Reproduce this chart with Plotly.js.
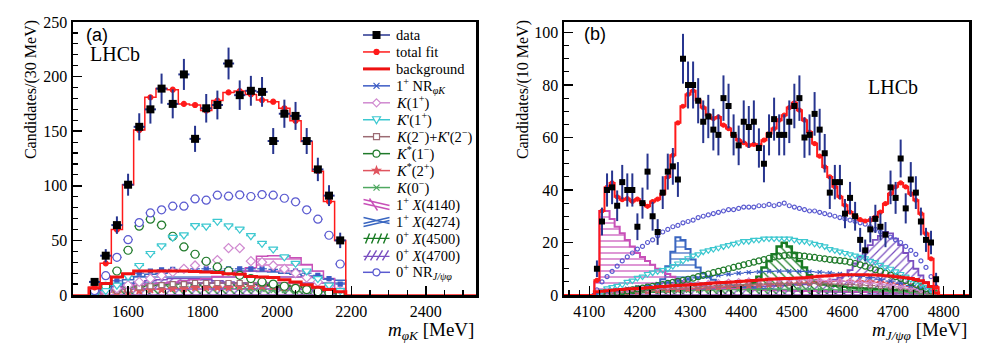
<!DOCTYPE html>
<html>
<head>
<meta charset="utf-8">
<script src="https://cdn.plot.ly/plotly-3.0.1.min.js"></script>
<style>
body { margin: 0; background: white; }
#chart { width: 998px; height: 350px; }
</style>
</head>
<body>
<div id="chart"></div>
<script>
// panel (a): m(phi K), 30 MeV bins
var binA = 30
var xA = [1510,1540,1570,1600,1630,1660,1690,1720,1750,1780,1810,1840,1870,1900,1930,1960,1990,2020,2050,2080,2110,2140,2170]
var dataA = [12,36,64,101,154,170,189,175,202,143,171,174,212,183,187,186,141,166,164,141,115,91,50]
var fitA = [7,29,60,101,151,181,189,188,175,174,169,178,185.5,186.7,183.7,178.5,177,171,159.5,140.6,113.4,85.6,50]
var bkgA = [6.5,10.5,16.5,19.5,22,22,22,22,22,21.5,21,20.5,19.5,19,17,16.5,16,14,12,9.5,7,5,3]
var nrPhiKA = [3,8,13,17,20,22,23,23.5,24,24,24,24,24,24,24,24,23.5,23,22,20,18,15,10]
var k1pA = [1,3,6,9,12,15,18,21,24,27,30,32,43,43,31,30,27,24,20,16,12,8,3]
var kp1pA = [1,4,9,17,27,38,45,52.8,55,63.5,63,67.5,63.3,60.4,54.3,47.3,42,35,29,22,15,9,4]
var k2mA = [1,2,4,5,7,8,9,10,10,11,11,11,11,11,11,10,10,9,8,7,5,4,2]
var ks1mA = [2,8,22,41,63,69.4,64,53.8,44,37.3,30.9,25.7,22,18,15,12,10,8,6,5,3,2,1]
var ks2pA = [0,1,2,3,4,5,5,6,6,7,7,7,7,8,8,8,8,7,7,6,5,3,2]
var k0mA = [1,3,5,7,8,9,9,9,8,8,7,7,6,6,5,5,4,4,3,3,2,2,1]
var x4140A = [1,3,5,7,9,10,11,12,13,14,15,17,19,21,25,35.5,36,36,34,28,22,15,6]
var x4274A = [2,6,10,14,17,19,20,21,21.5,22,22,22,22,22,22,21.5,21,20,19,17.5,16,14.5,13.5]
var x4500A = [1,3,5,7,8,9,10,10,11,11,11,11,11,11,10,10,9,9,8,7,6,4,2]
var x4700A = [2,5,8,10,12,13,14,15,15,15,14,13,12,11,10,9,8,7,6,5,4,3,1]
var nrJA = [4,17.7,34.5,50.7,66.3,75.2,78,81.3,81.3,88,86.8,91.4,90.5,91.7,90.2,92,91.4,88.6,85.3,78,69.4,54.7,28.4]

// panel (b): m(J/psi phi), 10 MeV bins
var binB = 10
var xB = [4115,4125,4135,4145,4155,4165,4175,4185,4195,4205,4215,4225,4235,4245,4255,4265,4275,4285,4295,4305,4315,4325,4335,4345,4355,4365,4375,4385,4395,4405,4415,4425,4435,4445,4455,4465,4475,4485,4495,4505,4515,4525,4535,4545,4555,4565,4575,4585,4595,4605,4615,4625,4635,4645,4655,4665,4675,4685,4695,4705,4715,4725,4735,4745,4755,4765,4775,4785]
var dataB = [10,28,40,41,34,43,40,40,26,35,47,30,24,39,47,49,44,90,80,80,74,66,68,63,61,75,72,61,57,66,64,66,56,50,61,67,61,61,66,72,75,60,61,69,63,54,39,43,43,31,37,30,21,17,25,29,26,23,41,37,52,33,44,39,28,21,20,6]
var fitB = [5.6,32,41,42.7,37.4,36.3,36.7,35.7,36.5,35,33.8,35.6,36.5,38.6,45,53.2,65.6,71.9,76.4,77.8,74.2,71.4,68.5,67.2,67.8,64.7,63.4,60.9,59,58,57,57.4,57,59,61.5,63.4,66.6,68.5,71.4,73.2,70.4,66.6,62.1,57.7,52.9,48.8,45,41.2,37.4,34.2,31.6,30,28.7,28.2,28.5,29.7,31.6,34.8,38.6,41.2,42.7,41.2,38.6,36.1,31,23.4,13.8,3]
var bkgB = [1.2,1.4,1.6,1.8,2,2.1,2.3,2.4,2.5,2.6,2.8,2.9,3.1,3.2,3.3,3.5,3.6,3.7,3.8,4,4.1,4.3,4.4,4.6,4.7,4.8,4.9,5,5.1,5.2,5.4,5.5,5.7,5.8,6,6.1,6.2,6.3,6.3,6.4,6.5,6.6,6.8,7,7.1,7.2,7.3,7.5,7.6,7.7,7.7,7.7,7.7,7.7,7.6,7.6,7.5,7.3,7.2,7,6.8,6.6,6.3,5.9,5.4,4.7,3.2,0.8]
var nrJB = [2,5,7,9,11,13,14.5,16,17.5,18.5,20,21,22.5,24,25,26,26.5,27.5,28,28.5,29.5,30,30.5,31,31.5,32,32.5,32.5,33,33.5,33.5,33.5,34,34,34.5,34,34.5,35,34,33.5,33,32.5,32,32,31.5,31,30.5,30,29.5,29,28.5,28,27.5,27,26,25,24,23,22,21,20,18.5,17,15.5,13,10.5,7,3]
var kp1pB = [0.5,1.5,2.5,3,3.5,4,5,5.5,6.5,7,8,8.5,9,9.5,10,11,12,13,14,15,15.5,16.5,17,17.5,18,18.5,19,19.5,20,20.5,20.5,21,21,21.5,21.5,21.5,21.5,21.5,21.5,21,20.5,20.5,20,19.5,19,18.5,17.5,17,16.5,16,15.5,15,14.5,14,13,12.5,11.5,10.5,10,9,8,7,6,5,4,3,2,0.5]
var ks1mB = [0,0.3,0.5,0.8,1,1.3,1.6,2,2.3,2.6,3,3.3,3.6,4,4.4,4.8,5.2,5.6,6,6.4,7,7.5,8,8.5,9,9.5,10,10.5,11,11.5,12,12.5,13,13.5,14,14.5,14.8,15,15.2,15.2,15,14.8,14.5,14.3,14,13.8,13.5,13.3,13.1,12.9,12.5,12,11.5,11,10.3,9.6,9,8.3,7.6,7,6.3,5.5,4.8,4,3.2,2.4,1.5,0.5]
var x4140B = [5,32,32,29,26,23.5,21,18.5,16,14.5,13,11.5,10,9,8,7,6,5.2,4.6,4.2,3.8,3.5,3.2,3,2.8,2.6,2.5,2.4,2.3,2.2,2.1,2,2,1.9,1.9,1.8,1.8,1.7,1.7,1.6,1.6,1.5,1.5,1.5,1.4,1.4,1.4,1.3,1.3,1.3,1.2,1.2,1.2,1.1,1.1,1.1,1,1,1,0.9,0.9,0.8,0.8,0.7,0.6,0.5,0.4,0.2]
var x4274B = [0.3,0.5,0.6,0.7,0.8,0.9,1,1.2,1.4,1.6,1.9,2.3,3.2,6,11,16.5,22,21,17.5,13.5,10.5,8.2,6.8,5.8,5,4.4,4,3.6,3.3,3,2.8,2.6,2.4,2.3,2.2,2.1,2,1.9,1.8,1.7,1.6,1.6,1.5,1.5,1.4,1.4,1.3,1.3,1.2,1.2,1.2,1.1,1.1,1.1,1,1,1,0.9,0.9,0.8,0.8,0.7,0.7,0.6,0.5,0.4,0.3,0.1]
var x4500B = [0.2,0.3,0.4,0.5,0.6,0.7,0.8,0.9,1,1.1,1.2,1.3,1.4,1.5,1.6,1.7,1.8,1.9,2,2.1,2.2,2.3,2.4,2.5,2.6,2.8,3,3.2,3.4,3.6,3.9,4.5,7,10.5,13,15.5,18.5,19.9,18.5,16,13,10.5,7.5,5.5,4.5,4,3.7,3.5,3.3,3.1,2.9,2.8,2.6,2.5,2.4,2.3,2.2,2.1,2,1.9,1.8,1.6,1.4,1.2,1,0.8,0.5,0.2]
var x4700B = [0.2,0.3,0.4,0.5,0.6,0.6,0.7,0.8,0.9,1,1,1.1,1.2,1.3,1.4,1.5,1.6,1.7,1.8,1.9,2,2.1,2.2,2.3,2.4,2.5,2.6,2.7,2.8,2.9,3,3.1,3.2,3.3,3.4,3.5,3.6,3.7,3.8,3.9,4,4.1,4.3,4.5,4.7,5,5.3,5.8,6.5,7.5,9.5,12,14.5,17,19,21,22.5,24,23.5,21.5,19,16,13,10,7.5,5,3,1]
// smaller components of panel (b), read every 20 MeV
var xMinorB = [4115,4135,4155,4175,4195,4215,4235,4255,4275,4295,4315,4335,4355,4375,4395,4415,4435,4455,4475,4495,4515,4535,4555,4575,4595,4615,4635,4655,4675,4695,4715,4735,4755,4775]
var nrPhiKB = [0.5,1.2,1.8,2.4,3,3.6,4.2,4.8,5.4,6,6.5,7,7.5,7.9,8.3,8.6,8.8,9,9.1,9.1,9,8.9,8.7,8.4,8,7.6,7.1,6.6,6,5.3,4.5,3.6,2.6,1.3]
var k1pB = [0.3,0.8,1.2,1.6,2,2.4,2.8,3.2,3.6,4,4.3,4.6,4.9,5.1,5.3,5.5,5.6,5.7,5.8,5.8,5.8,5.7,5.6,5.5,5.3,5.1,4.8,4.5,4.1,3.7,3.2,2.6,1.9,1]
var k2mB = [0.3,0.7,1,1.3,1.6,1.9,2.2,2.5,2.8,3,3.2,3.4,3.6,3.8,4,4.1,4.2,4.3,4.4,4.4,4.4,4.4,4.3,4.2,4.1,4,3.8,3.6,3.3,3,2.6,2.1,1.6,0.8]
var ks2pB = [0.2,0.5,0.8,1,1.3,1.5,1.8,2,2.2,2.4,2.6,2.8,3,3.2,3.4,3.6,3.8,4,4.2,4.4,4.6,4.8,5,5.1,5.2,5.2,5.1,5,4.8,4.5,4,3.3,2.5,1.2]
var k0mB = [0.2,0.4,0.6,0.8,1,1.1,1.3,1.4,1.5,1.6,1.7,1.8,1.9,2,2,2.1,2.1,2.2,2.2,2.2,2.2,2.2,2.1,2.1,2,1.9,1.8,1.7,1.6,1.4,1.2,1,0.7,0.3]

var rangeA = [1452, 2535]
var rangeB = [4050, 4850]

var cErr = '#27358f'
var cFit = '#ff1a1a'
var cBkg = '#ee1111'
var cNrPhiK = '#3b5bc4'
var cK1p = '#d08ad0'
var cKp1p = '#3cc8d0'
var cK2m = '#9c6b73'
var cKs1m = '#1f7a2a'
var cKs2p = '#e0555f'
var cK0m = '#4fa860'
var cX4140 = '#c850b8'
var cX4274 = '#3a66c0'
var cX4500 = '#177a22'
var cX4700 = '#7a4fc0'
var cNrJ = '#5a5ad0'

// bin contents -> outline of a histogram (optionally with a zero line out to the axis ends)
function steps(xc, yv, w, lo, hi) {
    var x = [], y = []
    if (lo !== undefined) { x.push(lo); y.push(0) }
    x.push(xc[0] - w / 2); y.push(0)
    for (var i = 0; i < xc.length; i++) {
        x.push(xc[i] - w / 2); y.push(yv[i])
    }
    var end = xc[xc.length - 1] + w / 2
    x.push(end); y.push(yv[yv.length - 1])
    x.push(end); y.push(0)
    if (hi !== undefined) { x.push(hi); y.push(0) }
    return {x: x, y: y}
}

function histLine(xc, yv, w, color, lw, xa, ya, range) {
    var s = range ? steps(xc, yv, w, range[0], range[1]) : steps(xc, yv, w)
    return {type: 'scatter', mode: 'lines', x: s.x, y: s.y, xaxis: xa, yaxis: ya,
        line: {shape: 'hv', color: color, width: lw}, showlegend: false, hoverinfo: 'skip'}
}

function hatched(xc, yv, w, color, shape, lw, xa, ya) {
    var t = histLine(xc, yv, w, color, lw, xa, ya)
    t.fill = 'tozeroy'
    t.fillcolor = 'rgba(0,0,0,0)'
    t.fillpattern = {shape: shape, fgcolor: color, bgcolor: 'rgba(0,0,0,0)', size: 6, solidity: 0.2}
    return t
}

function pts(x, y, color, symbol, size, half, xa, ya, fill) {
    var t = {type: 'scatter', mode: 'markers', x: x, y: y, xaxis: xa, yaxis: ya,
        marker: {symbol: symbol, size: size, color: fill || color, line: {color: color, width: 1.2}},
        showlegend: false, hoverinfo: 'skip'}
    if (half) t.error_x = {type: 'constant', value: half, width: 0, thickness: 1.2, color: color}
    return t
}

function dataTrace(x, y, w, size, xa, ya) {
    return {type: 'scatter', mode: 'markers', x: x, y: y, xaxis: xa, yaxis: ya,
        marker: {symbol: 'square', size: size, color: 'black'},
        error_y: {type: 'data', array: y.map(Math.sqrt), width: 0, thickness: 2, color: cErr},
        error_x: {type: 'constant', value: w / 2, width: 0, thickness: 2, color: cErr},
        showlegend: false, hoverinfo: 'skip'}
}

var traces = [
    // panel (a)
    hatched(xA, x4700A, binA, cX4700, '/', 1.5, 'x', 'y'),
    hatched(xA, x4500A, binA, cX4500, '\\', 1.5, 'x', 'y'),
    hatched(xA, x4274A, binA, cX4274, '-', 1.5, 'x', 'y'),
    hatched(xA, x4140A, binA, cX4140, '-', 1.5, 'x', 'y'),
    pts(xA, k0mA, cK0m, 'x-thin', 5, 13, 'x', 'y'),
    pts(xA, ks2pA, cKs2p, 'star', 6, 13, 'x', 'y'),
    pts(xA, k2mA, cK2m, 'square', 5, 13, 'x', 'y', 'white'),
    pts(xA, nrPhiKA, cNrPhiK, 'square', 4, 13, 'x', 'y'),
    pts(xA, k1pA, cK1p, 'diamond', 7, 13, 'x', 'y', 'white'),
    pts(xA, ks1mA, cKs1m, 'circle', 8, 13, 'x', 'y', 'white'),
    pts(xA, kp1pA, cKp1p, 'triangle-down', 8, 13, 'x', 'y', 'white'),
    pts(xA, nrJA, cNrJ, 'circle', 8, 13, 'x', 'y', 'white'),
    histLine(xA, bkgA, binA, cBkg, 3, 'x', 'y'),
    histLine(xA, fitA, binA, cFit, 1.5, 'x', 'y', rangeA),
    pts(xA, fitA, cFit, 'circle', 5, 0, 'x', 'y'),
    dataTrace(xA, dataA, binA, 8, 'x', 'y'),
    // panel (b)
    hatched(xB, x4700B, binB, cX4700, '/', 1.8, 'x2', 'y2'),
    hatched(xB, x4500B, binB, cX4500, '\\', 2.5, 'x2', 'y2'),
    hatched(xB, x4274B, binB, cX4274, '-', 2, 'x2', 'y2'),
    hatched(xB, x4140B, binB, cX4140, '-', 2, 'x2', 'y2'),
    pts(xMinorB, k0mB, cK0m, 'x-thin', 4, 10, 'x2', 'y2'),
    pts(xMinorB, ks2pB, cKs2p, 'star', 5, 10, 'x2', 'y2'),
    pts(xMinorB, k2mB, cK2m, 'square-open', 4, 10, 'x2', 'y2'),
    pts(xMinorB, k1pB, cK1p, 'diamond-open', 4, 10, 'x2', 'y2'),
    pts(xMinorB, nrPhiKB, cNrPhiK, 'x-thin', 4, 10, 'x2', 'y2'),
    pts(xB, ks1mB, cKs1m, 'circle-open', 6, 0, 'x2', 'y2'),
    pts(xB, kp1pB, cKp1p, 'triangle-down-open', 6, 0, 'x2', 'y2'),
    pts(xB, nrJB, cNrJ, 'circle-open', 4, 0, 'x2', 'y2'),
    histLine(xB, bkgB, binB, cBkg, 3, 'x2', 'y2'),
    histLine(xB, fitB, binB, cFit, 2, 'x2', 'y2', rangeB),
    pts(xB, fitB, cFit, 'circle', 4, 0, 'x2', 'y2'),
    dataTrace(xB, dataB, binB, 6, 'x2', 'y2')
]

// legend of panel (a), drawn by hand so the rows can sit as close as in the original
var legendRows = [
    {text: 'data', color: cErr, glyph: 'square'},
    {text: 'total fit', color: cFit, glyph: 'dot'},
    {text: 'background', color: cBkg, glyph: 'none', width: 3},
    {text: '1<sup>+</sup> NR<sub><i>φK</i></sub>', color: cNrPhiK, glyph: 'x'},
    {text: '<i>K</i>(1<sup>+</sup>)', color: cK1p, glyph: 'diamond'},
    {text: "<i>K</i>'(1<sup>+</sup>)", color: cKp1p, glyph: 'tridown'},
    {text: "<i>K</i>(2<sup>−</sup>)+<i>K</i>'(2<sup>−</sup>)", color: cK2m, glyph: 'sqopen'},
    {text: '<i>K</i><sup>*</sup>(1<sup>−</sup>)', color: cKs1m, glyph: 'circle'},
    {text: '<i>K</i><sup>*</sup>(2<sup>+</sup>)', color: cKs2p, glyph: 'star'},
    {text: '<i>K</i>(0<sup>−</sup>)', color: cK0m, glyph: 'x'},
    {text: '1<sup>+</sup> <i>X</i>(4140)', color: cX4140, glyph: 'M-13,5L13,-1M-13,1L13,-5M-7,6L1,-6'},
    {text: '1<sup>+</sup> <i>X</i>(4274)', color: cX4274, glyph: 'M-13,-2L13,4M-13,4L13,-2M-13,-5L13,1'},
    {text: '0<sup>+</sup> <i>X</i>(4500)', color: cX4500, glyph: 'M-13,0L13,0M-11,-5L-7,5M-5,-5L-1,5M1,-5L5,5M7,-5L11,5'},
    {text: '0<sup>+</sup> <i>X</i>(4700)', color: cX4700, glyph: 'M-13,-1L13,-1M-12,-5L-6,5M-6,-5L0,5M0,-5L6,5M6,-5L12,5'},
    {text: '0<sup>+</sup> NR<sub><i>J/ψφ</i></sub>', color: cNrJ, glyph: 'circle'}
]

var shapes = []
var annotations = []
var legX0 = 0.7196, legX1 = 0.7866, legXm = 0.7531, legXt = 0.7965

function glyphShape(kind, color, yc) {
    var s = {xref: 'x domain', yref: 'y domain', xsizemode: 'pixel', ysizemode: 'pixel',
        xanchor: legXm, yanchor: yc, line: {color: color, width: 1.2}}
    if (kind === 'square') { s.type = 'rect'; s.x0 = -4; s.x1 = 4; s.y0 = -4; s.y1 = 4; s.fillcolor = 'black'; s.line.width = 0 }
    else if (kind === 'dot') { s.type = 'circle'; s.x0 = -2.5; s.x1 = 2.5; s.y0 = -2.5; s.y1 = 2.5; s.fillcolor = color }
    else if (kind === 'circle') { s.type = 'circle'; s.x0 = -3.5; s.x1 = 3.5; s.y0 = -3.5; s.y1 = 3.5; s.fillcolor = 'white' }
    else if (kind === 'sqopen') { s.type = 'rect'; s.x0 = -3; s.x1 = 3; s.y0 = -3; s.y1 = 3; s.fillcolor = 'white' }
    else if (kind === 'diamond') { s.type = 'path'; s.path = 'M0,4L4,0L0,-4L-4,0Z'; s.fillcolor = 'white' }
    else if (kind === 'tridown') { s.type = 'path'; s.path = 'M-4,3L4,3L0,-4Z'; s.fillcolor = 'white' }
    else if (kind === 'star') { s.type = 'path'; s.path = 'M0,4L1,1.3L3.8,1.2L1.5,-0.5L2.4,-3.2L0,-1.6L-2.4,-3.2L-1.5,-0.5L-3.8,1.2L-1,1.3Z'; s.fillcolor = color }
    else if (kind === 'x') { s.type = 'path'; s.path = 'M-3,-3L3,3M-3,3L3,-3' }
    else { s.type = 'path'; s.path = kind; s.line.width = 1.4 }
    return s
}

legendRows.forEach(function (r, i) {
    var yc = (295 - (35 + 16.95 * i)) / 273
    if (r.glyph.charAt(0) !== 'M') {
        shapes.push({type: 'line', xref: 'x domain', yref: 'y domain', x0: legX0, x1: legX1, y0: yc, y1: yc,
            line: {color: r.color, width: r.width || 1.5}})
    }
    if (r.glyph !== 'none') shapes.push(glyphShape(r.glyph, r.color, yc))
    annotations.push({xref: 'x domain', yref: 'y domain', x: legXt, y: yc, xanchor: 'left', yanchor: 'middle',
        text: r.text, showarrow: false, font: {family: 'Liberation Serif', size: 14.5, color: 'black'}})
})

var serif = 'Liberation Serif'
annotations.push(
    {xref: 'x domain', yref: 'y domain', x: 0.027, y: 0.952, xanchor: 'left', yanchor: 'middle', text: '(a)', showarrow: false, font: {family: 'Liberation Sans', size: 18, color: 'black'}},
    {xref: 'x domain', yref: 'y domain', x: 0.038, y: 0.883, xanchor: 'left', yanchor: 'middle', text: 'LHCb', showarrow: false, font: {family: serif, size: 20, color: 'black'}},
    {xref: 'x2 domain', yref: 'y2 domain', x: 0.045, y: 0.956, xanchor: 'left', yanchor: 'middle', text: '(b)', showarrow: false, font: {family: 'Liberation Sans', size: 18, color: 'black'}},
    {xref: 'x2 domain', yref: 'y2 domain', x: 0.746, y: 0.762, xanchor: 'left', yanchor: 'middle', text: 'LHCb', showarrow: false, font: {family: serif, size: 20, color: 'black'}},
    {xref: 'x domain', yref: 'y domain', x: -0.104, y: 0.751, xanchor: 'center', yanchor: 'middle', textangle: -90, text: 'Candidates/(30 MeV)', showarrow: false, font: {family: serif, size: 16, color: 'black'}},
    {xref: 'x2 domain', yref: 'y2 domain', x: -0.101, y: 0.751, xanchor: 'center', yanchor: 'middle', textangle: -90, text: 'Candidates/(10 MeV)', showarrow: false, font: {family: serif, size: 16, color: 'black'}},
    {xref: 'x domain', yref: 'y domain', x: 1, y: -0.132, xanchor: 'right', yanchor: 'middle', text: '<i>m</i><sub><i>φK</i></sub> [MeV]', showarrow: false, font: {family: serif, size: 19, color: 'black'}},
    {xref: 'x2 domain', yref: 'y2 domain', x: 1, y: -0.132, xanchor: 'right', yanchor: 'middle', text: '<i>m</i><sub><i>J/ψφ</i></sub> [MeV]', showarrow: false, font: {family: serif, size: 19, color: 'black'}}
)

function axis(extra) {
    var a = {showline: true, linewidth: 2.5, linecolor: 'black', mirror: true, showgrid: false, zeroline: false,
        ticks: 'inside', ticklen: 9, tickwidth: 1.5, tickcolor: 'black',
        tickfont: {family: serif, size: 16, color: 'black'},
        minor: {ticks: 'inside', ticklen: 5, tickwidth: 1.2, tickcolor: 'black', showgrid: false}}
    for (var k in extra) {
        if (k === 'minorDtick') a.minor.dtick = extra[k]
        else a[k] = extra[k]
    }
    return a
}

var layout = {
    width: 998, height: 350,
    margin: {l: 73, r: 29, t: 22, b: 55},
    paper_bgcolor: 'white', plot_bgcolor: 'white',
    showlegend: false,
    font: {family: serif, color: 'black'},
    xaxis: axis({domain: [0, 0.4498], range: rangeA, dtick: 200, minorDtick: 50, anchor: 'y', ticklabelstandoff: 0}),
    yaxis: axis({domain: [0, 1], range: [0, 250], dtick: 50, minorDtick: 10, anchor: 'x'}),
    xaxis2: axis({domain: [0.548, 1], range: rangeB, dtick: 100, minorDtick: 20, anchor: 'y2', ticklabelstandoff: 0}),
    yaxis2: axis({domain: [0, 1], range: [0, 104], dtick: 20, minorDtick: 5, anchor: 'x2'}),
    shapes: shapes,
    annotations: annotations
}

Plotly.newPlot('chart', traces, layout, {displayModeBar: false, staticPlot: true})
</script>
</body>
</html>
